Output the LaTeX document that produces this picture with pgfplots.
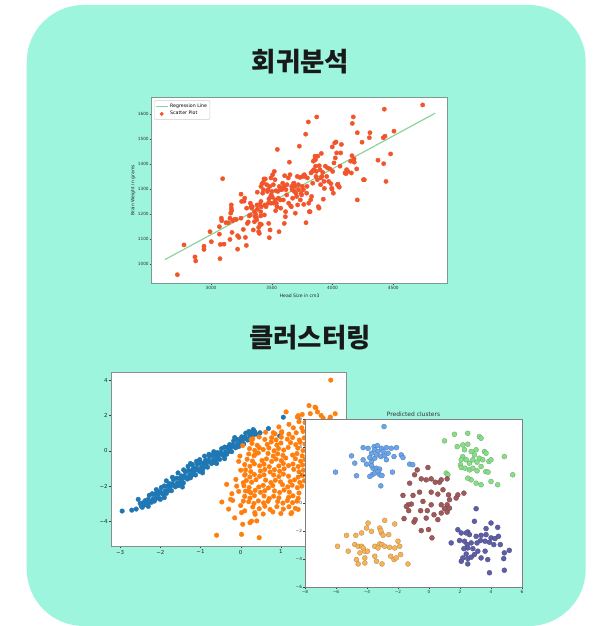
\documentclass[border=0pt]{standalone}
\usepackage{fontspec}
\setmainfont{DejaVu Sans}
\newfontfamily\kr{Noto Sans CJK KR}
\usepackage{pgfplots}
\pgfplotsset{compat=1.18}

\definecolor{mint}{HTML}{9CF5DC}
\definecolor{scat}{HTML}{F2552C}
\definecolor{regl}{HTML}{8CD49B}
\definecolor{mplblue}{HTML}{1F77B4}
\definecolor{mplorange}{HTML}{FF7F0E}
\definecolor{cblue}{HTML}{6AA4EA}
\definecolor{cgreen}{HTML}{88DD88}
\definecolor{cbrown}{HTML}{A05A5A}
\definecolor{corange}{HTML}{F5B35A}
\definecolor{cnavy}{HTML}{5F5FA8}
\definecolor{frameA}{HTML}{7A9A92}
\definecolor{frameB}{HTML}{8C8C8C}

\pgfplotsset{
  mpl/.style={
    scale only axis,
    axis background/.style={fill=white},
    tick pos=left, tick align=outside,
    tick style={black!75, line width=0.4bp},
    major tick length=2.3bp,
  },
  clst/.style={only marks, mark=*, mark size=2.5bp,
    mark options={fill=#1, draw=#1!75!black, line width=0.3bp}},
}

\begin{document}
\begin{tikzpicture}[x=1bp,y=1bp]
\fill[white] (0,0) rectangle (598,626);
\fill[mint, rounded corners=57bp] (26.7,0) rectangle (585.7,621);

\node[font=\kr\bfseries\fontsize{26.5}{30}\selectfont, text=black!90] at (300.5,564.5) {회귀분석};
\node[font=\kr\bfseries\fontsize{26.5}{30}\selectfont, text=black!90] at (310,288) {클러스터링};

% --- regression ---
\begin{axis}[mpl,
  at={(151.7bp,342.7bp)}, anchor=south west,
  width=296bp, height=185.6bp,
  xmin=2512, xmax=4948, ymin=922.5, ymax=1665,
  axis line style={draw=frameA, line width=1bp},
  major tick length=1.8bp,
  xtick={3000,3500,4000,4500}, xticklabels={3000,3500,4000,4500},
  ytick={1000,1100,...,1600}, yticklabels={1000,1100,1200,1300,1400,1500,1600},
  ticklabel style={font=\fontsize{4.3}{5}\selectfont, text=black!80, inner sep=1pt},
  xlabel={Head Size in cm3}, ylabel={Brain Weight in grams},
  label style={font=\fontsize{4.6}{5.5}\selectfont, text=black!85},
  xlabel style={at={(axis description cs:0.5,-0.068)}, anchor=center},
  ylabel style={at={(axis description cs:-0.0632,0.5)}, anchor=center},
  legend style={at={(0.008,0.985)}, anchor=north west, draw=black!20,
    rounded corners=1pt, inner sep=0.9pt, row sep=-1.2pt,
    font=\fontsize{4.7}{5.5}\selectfont, cells={anchor=west}},
]
\addplot[regl, line width=1.2bp,
  legend image code/.code={\draw[regl, line width=1bp] (0,0) -- (12bp,0);}]
  coordinates {(2620,1017) (4845,1603)};
\addlegendentry{Regression Line}
\addplot[only marks, mark=*, mark size=2.15bp, color=scat,
  legend image code/.code={\fill[scat] (6bp,0) circle (1.8bp);}]
  coordinates {
(2723,957) (2778,1076) (2868,1028) (2874,1012) (2942,1071) (2942,1058) (2992,1129) (3003,1089)
(3069,1119) (3069,1149) (3074,1021) (3077,1078) (3085,1183) (3088,1173) (3096,1341) (3107,1079)
(3123,1165) (3143,1165) (3156,1183) (3162,1203) (3167,1223) (3167,1236) (3170,1213) (3156,1098)
(3173,1126) (3178,1173) (3192,1178) (3208,1178) (3219,1059) (3219,1113) (3230,1106) (3247,1279)
(3247,1183) (3252,1250) (3266,1138) (3272,1251) (3277,1263) (3283,1106) (3291,1074) (3293,1223)
(3299,1162) (3307,1168) (3315,1192) (3324,1243) (3324,1196) (3329,1229) (3335,1223) (3340,1229)
(3348,1136) (3357,1169) (3357,1209) (3362,1189) (3368,1199) (3373,1185) (3376,1176) (3379,1236)
(3381,1287) (3381,1219) (3392,1146) (3392,1129) (3398,1122) (3403,1160) (3403,1238) (3409,1209)
(3409,1192) (3411,1250) (3411,1310) (3414,1158) (3414,1229) (3420,1321) (3425,1283) (3431,1326)
(3431,1297) (3436,1340) (3439,1196) (3444,1236) (3447,1340) (3453,1229) (3458,1317) (3464,1290)
(3469,1297) (3472,1243) (3475,1162) (3477,1260) (3480,1105) (3483,1310) (3486,1136) (3491,1270)
(3494,1344) (3494,1243) (3496,1276) (3502,1290) (3505,1267) (3507,1357) (3513,1317) (3518,1243)
(3521,1370) (3527,1337) (3529,1256) (3532,1213) (3535,1293) (3538,1243) (3543,1229) (3546,1458)
(3549,1290) (3554,1263) (3560,1129) (3562,1310) (3568,1297) (3571,1256) (3573,1223) (3579,1303)
(3582,1297) (3590,1323) (3595,1256) (3601,1310) (3603,1162) (3606,1353) (3612,1189) (3614,1209)
(3617,1297) (3623,1276) (3625,1317) (3636,1344) (3639,1243) (3645,1407) (3650,1357) (3656,1232)
(3661,1229) (3664,1310) (3667,1297) (3672,1263) (3678,1321) (3683,1323) (3686,1290) (3691,1310)
(3694,1203) (3699,1283) (3705,1270) (3710,1350) (3713,1236) (3719,1317) (3721,1297) (3727,1471)
(3732,1346) (3735,1256) (3741,1283) (3746,1276) (3752,1310) (3754,1350) (3760,1297) (3763,1238)
(3768,1357) (3774,1350) (3779,1519) (3782,1165) (3787,1283) (3790,1310) (3793,1344) (3801,1568)
(3804,1243) (3809,1209) (3815,1209) (3820,1256) (3823,1364) (3828,1270) (3834,1370) (3837,1323)
(3842,1411) (3845,1377) (3850,1415) (3856,1431) (3859,1417) (3861,1391) (3864,1350) (3867,1370)
(3870,1588) (3875,1337) (3878,1431) (3883,1229) (3889,1223) (3891,1393) (3897,1377) (3902,1317)
(3905,1344) (3908,1442) (3913,1350) (3919,1366) (3924,1259) (3930,1330) (3933,1302) (3941,1391)
(3952,1350) (3960,1384) (3968,1330) (3979,1380) (3987,1321) (3993,1303) (3996,1299) (3998,1468)
(4001,1370) (4007,1283) (4012,1404) (4018,1484) (4023,1424) (4029,1488) (4034,1444) (4040,1317)
(4045,1319) (4051,1310) (4056,1307) (4062,1391) (4067,1444) (4073,1478) (4103,1364) (4111,1361)
(4116,1377) (4127,1370) (4149,1411) (4155,1364) (4160,1433) (4163,1562) (4171,1588) (4177,1420)
(4179,1407) (4199,1380) (4204,1525) (4204,1256) (4243,1487) (4254,1337) (4262,1337) (4303,1505)
(4308,1525) (4374,1415) (4418,1505) (4421,1401) (4426,1619) (4432,1511) (4440,1330) (4478,1440)
(4506,1531) (4742,1636)
};
\addlegendentry{Scatter Plot}
\end{axis}

% --- two classes ---
\begin{axis}[mpl,
  at={(111.7bp,80bp)}, anchor=south west,
  width=234.3bp, height=174bp,
  xmin=-3.21, xmax=2.62, ymin=-5.39, ymax=4.46,
  axis line style={draw=frameB, line width=0.9bp},
  xtick={-3,-2,-1,0,1,2}, xticklabels={−3,−2,−1,0,1,2},
  ytick={-4,-2,0,2,4}, yticklabels={−4,−2,0,2,4},
  ticklabel style={font=\fontsize{5.5}{6}\selectfont, text=black!85, inner sep=1.5pt},
]
\addplot[only marks, mark=*, mark size=2.3bp, color=mplblue] coordinates {
(-2.50,-2.98) (-2.475,-3.12) (-2.45,-3.20) (-2.425,-2.94) (-2.40,-3.07) (-2.375,-2.82) (-2.35,-2.91) (-2.325,-3.03)
(-2.30,-2.75) (-2.275,-2.52) (-2.25,-2.86) (-2.225,-2.92) (-2.20,-2.43) (-2.175,-2.70) (-2.15,-2.85) (-2.125,-2.45)
(-2.10,-2.69) (-2.075,-2.30) (-2.05,-2.46) (-2.025,-2.70) (-2.00,-2.31) (-1.975,-2.08) (-1.95,-2.42) (-1.925,-2.48)
(-1.90,-1.99) (-1.875,-2.26) (-1.85,-2.41) (-1.825,-2.01) (-1.80,-2.25) (-1.775,-1.86) (-1.75,-2.02) (-1.725,-2.26)
(-1.70,-1.87) (-1.675,-1.64) (-1.65,-1.98) (-1.625,-2.04) (-1.60,-1.55) (-1.575,-1.82) (-1.55,-1.97) (-1.525,-1.57)
(-1.50,-1.81) (-1.475,-1.42) (-1.45,-1.58) (-1.425,-1.82) (-1.40,-1.43) (-1.375,-1.20) (-1.35,-1.54) (-1.325,-1.60)
(-1.30,-1.11) (-1.275,-1.37) (-1.25,-1.53) (-1.225,-1.13) (-1.20,-1.36) (-1.175,-0.98) (-1.15,-1.14) (-1.125,-1.37)
(-1.10,-0.99) (-1.075,-0.76) (-1.05,-1.09) (-1.025,-1.16) (-1.00,-0.67) (-0.975,-0.93) (-0.95,-1.09) (-0.925,-0.69)
(-0.90,-0.92) (-0.875,-0.54) (-0.85,-0.70) (-0.825,-0.93) (-0.80,-0.55) (-0.775,-0.32) (-0.75,-0.65) (-0.725,-0.72)
(-0.70,-0.23) (-0.675,-0.49) (-0.65,-0.65) (-0.625,-0.25) (-0.60,-0.48) (-0.575,-0.10) (-0.55,-0.26) (-0.525,-0.49)
(-0.50,-0.11) (-0.475,0.12) (-0.45,-0.21) (-0.425,-0.28) (-0.40,0.21) (-0.375,-0.05) (-0.35,-0.20) (-0.325,0.19)
(-0.30,-0.04) (-0.275,0.35) (-0.25,0.18) (-0.225,-0.05) (-0.20,0.34) (-0.175,0.56) (-0.15,0.23) (-0.125,0.17)
(-0.10,0.65) (-0.075,0.39) (-0.05,0.24) (-0.025,0.63) (0.00,0.40) (0.025,0.79) (0.05,0.62) (0.075,0.39)
(0.10,0.78) (0.125,1.00) (0.15,0.67) (0.175,0.61) (0.20,1.09) (0.225,0.85) (0.25,0.77) (0.275,1.03)
(0.30,0.90) (0.325,1.15) (0.35,1.07) (0.375,0.94)
(-1.70,-1.50) (-1.56,-1.25) (-1.42,-1.08) (-1.31,-0.88) (-1.20,-0.78) (-1.10,-0.60) (-1.02,-0.50)
(-0.90,-0.30) (-0.79,-0.20) (-0.67,-0.05) (-1.25,-0.72) (-2.30,-3.15) (-1.90,-2.65) (-0.60,-0.72) (-2.00,-2.75)
(-2.95,-3.41) (-2.71,-3.36) (-2.55,-2.75) (-2.60,-3.30) (0.69,1.26) (1.06,1.90) (0.97,0.84) (0.48,1.02) (0.31,1.20)
(-2.10,-2.20) (-1.45,-2.05) (-0.95,-1.25) (-0.40,-0.45) (-0.15,0.75) (-1.85,-1.70)
};
\addplot[only marks, mark=*, mark size=2.3bp, color=mplorange] coordinates {
(0.62,1.05) (0.85,0.96) (1.02,1.08) (1.20,0.94) (1.38,1.02) (1.55,1.10)
(0.30,0.68) (0.46,0.78) (0.60,0.64) (0.77,0.74) (0.88,0.62) (1.01,0.77) (1.16,0.66) (1.29,0.75) (1.46,0.61) (1.58,0.73)
(0.28,0.42) (0.41,0.31) (0.66,0.36) (0.76,0.50) (0.90,0.33) (1.00,0.44) (1.24,0.46) (1.37,0.35) (1.48,0.48) (1.60,0.38)
(0.22,0.12) (0.35,0.02) (0.46,0.18) (0.70,0.16) (0.83,0.00) (0.94,0.13) (1.07,0.04) (1.18,0.19) (1.42,0.15) (1.55,0.01)
(0.20,-0.18) (0.33,-0.28) (0.44,-0.12) (0.68,-0.15) (0.81,-0.30) (0.92,-0.17) (1.05,-0.26) (1.29,-0.24) (1.40,-0.16) (1.53,-0.29)
(0.16,-0.48) (0.29,-0.58) (0.53,-0.55) (0.64,-0.46) (0.77,-0.60) (0.88,-0.47) (1.01,-0.56) (1.12,-0.41) (1.36,-0.45) (1.49,-0.59) (1.60,-0.50)
(0.10,-0.78) (0.23,-0.88) (0.34,-0.74) (0.47,-0.85) (0.58,-0.76) (0.71,-0.90) (0.95,-0.86) (1.06,-0.72) (1.19,-0.84) (1.30,-0.75) (1.43,-0.89) (1.54,-0.80)
(0.12,-1.08) (0.25,-1.18) (0.49,-1.15) (0.60,-1.06) (0.73,-1.20) (0.84,-1.07) (0.97,-1.16) (1.08,-1.02) (1.32,-1.05) (1.45,-1.19) (1.56,-1.10)
(0.10,-1.38) (0.23,-1.48) (0.34,-1.34) (0.47,-1.45) (0.58,-1.36) (0.82,-1.37) (0.95,-1.46) (1.06,-1.32) (1.19,-1.44) (1.43,-1.49) (1.54,-1.40)
(0.14,-1.68) (0.27,-1.78) (0.38,-1.64) (0.62,-1.66) (0.75,-1.80) (0.86,-1.67) (0.99,-1.76) (1.23,-1.74) (1.34,-1.65) (1.47,-1.79) (1.58,-1.70)
(0.08,-1.98) (0.21,-2.08) (0.45,-2.05) (0.56,-1.96) (0.69,-2.10) (0.80,-1.97) (1.04,-1.92) (1.17,-2.04) (1.28,-1.95) (1.41,-2.09) (1.52,-2.00)
(0.12,-2.28) (0.25,-2.38) (0.36,-2.24) (0.49,-2.35) (0.60,-2.26) (0.84,-2.27) (0.97,-2.36) (1.08,-2.22) (1.21,-2.34) (1.45,-2.39)
(0.10,-2.58) (0.23,-2.68) (0.34,-2.54) (0.58,-2.56) (0.71,-2.70) (0.82,-2.57) (0.95,-2.66) (1.19,-2.64) (1.30,-2.55) (1.43,-2.69)
(0.20,-2.88) (0.33,-2.98) (0.44,-2.84) (0.57,-2.95) (0.68,-2.86) (0.92,-2.87) (1.05,-2.96) (1.16,-2.82) (1.29,-2.94) (1.40,-2.85)
(0.30,-3.18) (0.46,-3.28) (0.60,-3.14) (0.90,-3.16) (1.06,-3.30) (1.20,-3.17) (1.36,-3.26)
(0.35,-3.50) (0.56,-3.58) (0.80,-3.46) (1.00,-3.55) (1.27,-3.50)
(-0.60,-4.78) (0.02,-4.73) (0.46,-4.92) (-0.12,-1.62) (-0.47,-2.90) (-0.22,-2.43) (-0.25,-2.75) (0.05,-4.16)
(0.23,-4.07) (0.40,-3.97) (1.25,-3.56) (0.27,-3.98) (0.36,-3.60) (0.73,-3.32) (1.43,-3.32) (0.02,-3.50)
(-0.20,-2.81) (0.065,-2.85) (0.19,-2.28) (0.11,-1.34) (0.065,-1.81) (0.36,-0.21) (0.56,0.07) (0.26,0.64)
(0.81,1.02) (1.02,1.02) (1.31,1.30) (1.52,1.30) (1.43,1.99) (1.13,2.20) (1.70,2.56) (1.87,2.43) (1.91,2.20)
(2.22,1.82) (2.24,4.00) (1.85,2.47) (1.73,2.10) (1.53,2.06) (1.41,1.91) (2.23,1.91) (1.60,1.60) (1.20,1.50)
(0.95,1.35) (1.45,1.65) (2.00,2.00) (2.35,2.10) (2.05,1.85)
(-0.05,-0.60) (0.00,-1.10) (-0.10,-2.00) (-0.05,-2.30) (0.00,-3.10) (-0.30,-3.30) (-0.15,-3.80)
(0.10,-3.40) (-0.35,-1.90) (-0.02,-0.30) (0.05,0.30)
};
\end{axis}

% --- predicted clusters ---
\begin{axis}[mpl, name=c3,
  at={(305bp,38.8bp)}, anchor=south west,
  width=217bp, height=168.2bp,
  xmin=-8, xmax=6, ymin=-6, ymax=6,
  axis line style={draw=none},
  major tick length=1.8bp,
  xtick={-8,-6,...,6}, xticklabels={−8,−6,−4,−2,0,2,4,6},
  ytick={-6,-4,...,6}, yticklabels={−6,−4,−2,0,2,4,6},
  ticklabel style={font=\fontsize{4.3}{5}\selectfont, text=black!80, inner sep=1pt},
]
\addplot[clst=cblue] coordinates {
(-2.9,5.46) (-4.25,3.96) (-3.93,3.91) (-3.54,4.03) (-3.33,4.1) (-3.5,3.8) (-3.71,3.56) (-3.29,3.68)
(-3.07,3.91) (-2.75,3.96) (-2.43,3.91) (-2.1,3.96) (-2.64,3.56) (-2.26,3.32) (-1.79,3.44) (-1.68,3.25)
(-5.0,3.37) (-4.79,2.85) (-4.25,3.09) (-4.03,2.78) (-3.71,2.97) (-3.5,3.2) (-3.11,3.32) (-2.86,3.39)
(-2.75,3.09) (-3.61,2.49) (-3.39,2.49) (-3.18,2.42) (-3.67,2.02) (-3.82,1.9) (-3.5,2.14) (-3.29,2.25)
(-3.18,2.02) (-3.03,1.97) (-2.36,2.21) (-3.11,1.23) (-4.68,1.95) (-6.03,2.21) (-3.71,2.68) (-3.82,3.25)
(-2.96,3.68) (-3.39,3.44) (-1.25,2.78) (-1.05,2.74)
};
\addplot[clst=cgreen] coordinates {
(1.0,4.44) (1.64,4.91) (2.5,4.98) (3.25,4.74) (3.36,4.63) (1.82,4.03) (2.18,4.15) (2.29,3.8)
(2.5,4.2) (2.72,3.68) (2.93,3.44) (3.04,3.8) (3.25,3.2) (3.47,3.09) (3.58,3.68) (3.68,3.56)
(3.86,2.97) (4.0,3.09) (4.86,3.32) (2.18,3.32) (2.4,3.09) (2.61,2.85) (2.03,2.73) (2.08,2.54)
(2.33,2.49) (2.61,2.37) (2.83,2.49) (3.1,2.3) (3.36,2.61) (3.66,2.25) (3.81,2.21) (2.72,1.66)
(3.04,1.42) (3.36,1.31) (4.0,1.54) (4.43,1.31) (5.4,2.02) (1.11,2.14) (1.22,2.02) (2.5,1.78)
(2.08,3.09) (2.83,3.09) (3.1,2.92)
};
\addplot[clst=cbrown] coordinates {
(-0.76,2.37) (-0.07,2.54) (-0.93,2.02) (-0.5,1.73) (-0.18,1.66) (0.14,1.73) (0.4,1.49) (0.68,1.49)
(0.79,1.66) (1.17,1.73) (-1.25,1.42) (-0.61,0.78) (-1.68,0.55) (-1.03,0.55) (0.14,0.78) (0.57,0.64)
(0.9,0.95) (1.26,0.59) (1.86,0.59) (2.25,0.71) (1.32,0.24) (1.75,0.36) (0.79,-0.12) (0.14,-0.12)
(-0.39,0.12) (-1.14,-0.07) (-1.35,-0.12) (-1.46,-0.24) (-1.31,-0.54) (-0.54,-0.54) (-0.11,-0.54) (0.32,-0.83)
(0.79,-0.71) (1.17,-0.64) (1.17,-0.12) (1.0,-0.4) (1.32,-0.36) (-1.61,-1.11) (-0.97,-1.35) (-0.5,-1.96)
(-0.03,-1.89) (0.19,-2.48) (-0.18,-1.07) (-0.89,-1.18) (0.57,-1.18)
};
\addplot[clst=corange] coordinates {
(-2.86,-1.23) (-2.21,-1.49) (-3.93,-1.42) (-4.03,-1.78) (-4.72,-2.3) (-4.35,-2.13) (-3.71,-2.01) (-3.18,-1.78)
(-3.07,-2.13) (-2.96,-2.3) (-2.6,-2.25) (-5.32,-2.3) (-4.79,-2.96) (-4.57,-3.08) (-4.35,-3.08) (-4.25,-3.2)
(-4.14,-3.43) (-3.97,-3.43) (-3.18,-2.91) (-3.03,-2.96) (-2.86,-3.08) (-2.54,-3.15) (-2.21,-3.2) (-2.0,-2.72)
(-1.89,-3.08) (-3.5,-3.08) (-3.29,-3.2) (-5.9,-3.08) (-4.46,-3.55) (-4.68,-4.03) (-4.57,-4.34) (-4.14,-3.91)
(-3.5,-3.79) (-3.39,-4.15) (-3.03,-4.34) (-2.47,-3.79) (-2.26,-4.03) (-2.11,-3.91) (-1.83,-3.67) (-1.36,-4.34)
(-4.14,-4.27) (-5.21,-3.43) (-3.11,-1.96)
};
\addplot[clst=cnavy] coordinates {
(3.04,-0.4) (2.93,-1.3) (4.0,-1.42) (4.43,-1.73) (1.86,-1.9) (2.08,-2.13) (2.5,-2.06) (2.61,-2.25)
(2.4,-2.13) (3.04,-2.37) (3.36,-2.3) (3.68,-2.25) (4.0,-2.48) (4.26,-2.53) (4.48,-2.37) (3.68,-1.82)
(1.43,-2.84) (1.97,-2.67) (2.29,-2.72) (2.46,-2.96) (2.72,-2.84) (3.1,-2.84) (3.32,-2.67) (3.62,-2.72)
(3.9,-2.79) (4.18,-2.96) (4.6,-2.96) (2.5,-3.2) (2.83,-3.25) (3.15,-3.43) (2.25,-3.25) (2.4,-3.63)
(2.5,-3.96) (2.72,-3.86) (2.93,-3.67) (3.62,-3.43) (3.36,-3.91) (3.79,-4.03) (3.9,-4.97) (4.86,-3.55)
(5.18,-3.37) (4.82,-3.96) (4.86,-4.79) (2.5,-4.34) (2.08,-4.15) (2.18,-3.91)
};
\end{axis}
\draw[black!50, line width=1bp] (c3.south west) rectangle (c3.north east);
\node[font=\fontsize{6}{7}\selectfont, text=black!80] at ([yshift=5bp]c3.north) {Predicted clusters};
\end{tikzpicture}
\end{document}
